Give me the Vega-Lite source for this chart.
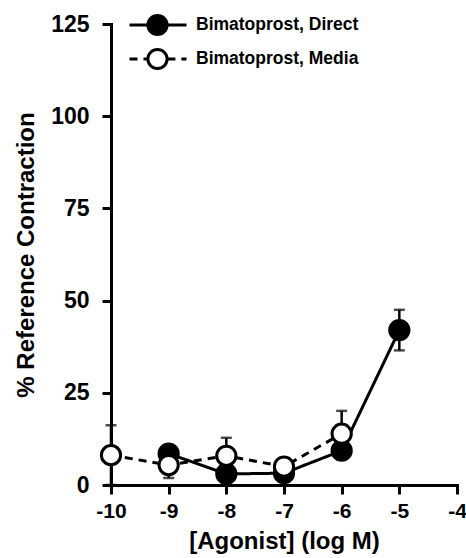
{
  "$schema": "https://vega.github.io/schema/vega-lite/v6.json",
  "width": 346,
  "height": 461,
  "autosize": "none",
  "padding": {"left": 111, "top": 24, "right": 9, "bottom": 73},
  "background": "white",
  "config": {
    "view": {"stroke": null},
    "font": "Liberation Sans",
    "axis": {
      "domainColor": "black", "domainWidth": 3, "domainCap": "square",
      "tickColor": "black", "tickWidth": 3, "tickSize": 9,
      "labelColor": "black", "labelFont": "Liberation Sans", "labelFontWeight": "bold", "labelFontSize": 23,
      "titleColor": "black", "titleFont": "Liberation Sans", "titleFontWeight": "bold", "titleFontSize": 24,
      "grid": false
    }
  },
  "data": {
    "values": [
      {"x": -9, "y": 8.5, "lo": 7.0, "hi": 10.0, "series": "Bimatoprost, Direct"},
      {"x": -8, "y": 3.0, "lo": 1.8, "hi": 4.2, "series": "Bimatoprost, Direct"},
      {"x": -7, "y": 3.2, "lo": 2.0, "hi": 4.4, "series": "Bimatoprost, Direct"},
      {"x": -6, "y": 9.3, "lo": 7.0, "hi": 11.6, "series": "Bimatoprost, Direct"},
      {"x": -5, "y": 42.0, "lo": 36.5, "hi": 47.5, "series": "Bimatoprost, Direct"},
      {"x": -10, "y": 8.1, "lo": 0.0, "hi": 16.2, "series": "Bimatoprost, Media"},
      {"x": -9, "y": 5.4, "lo": 1.9, "hi": 8.9, "series": "Bimatoprost, Media"},
      {"x": -8, "y": 7.9, "lo": 3.0, "hi": 12.8, "series": "Bimatoprost, Media"},
      {"x": -7, "y": 5.0, "lo": 3.5, "hi": 6.5, "series": "Bimatoprost, Media"},
      {"x": -6, "y": 13.9, "lo": 7.7, "hi": 20.1, "series": "Bimatoprost, Media"}
    ]
  },
  "encoding": {
    "x": {
      "field": "x", "type": "quantitative",
      "scale": {"domain": [-10, -4], "nice": false, "zero": false},
      "axis": {"values": [-10, -9, -8, -7, -6, -5, -4], "labelExpr": "'' + datum.value", "labelFontSize": 21, "labelDx": -1, "labelPadding": 6, "title": "[Agonist] (log M)", "titlePadding": 8, "labelFlush": false}
    }
  },
  "layer": [
    {
      "mark": {"type": "rule", "color": "black", "strokeWidth": 2.5},
      "encoding": {
        "y": {"field": "lo", "type": "quantitative", "scale": {"domain": [0, 125], "nice": false}, "axis": {"values": [0, 25, 50, 75, 100, 125], "labelPadding": 13, "title": "% Reference Contraction", "titlePadding": 12}},
        "y2": {"field": "hi"}
      }
    },
    {
      "mark": {"type": "tick", "orient": "horizontal", "color": "black", "size": 11, "thickness": 2.5},
      "encoding": {"y": {"field": "hi", "type": "quantitative"}}
    },
    {
      "mark": {"type": "tick", "orient": "horizontal", "color": "black", "size": 11, "thickness": 2.5},
      "encoding": {"y": {"field": "lo", "type": "quantitative"}}
    },
    {
      "mark": {"type": "line", "color": "black", "strokeWidth": 3},
      "encoding": {
        "y": {"field": "y", "type": "quantitative"},
        "strokeDash": {
          "field": "series", "type": "nominal",
          "scale": {"range": [[1, 0], [8, 6]]},
          "legend": {
            "title": null, "orient": "none", "legendX": 17, "legendY": -16,
            "symbolType": "M-1,0H-0.33M0.33,0H1", "symbolSize": 3249, "symbolStrokeWidth": 3, "symbolStrokeColor": "black", "symbolFillColor": "transparent",
            "clipHeight": 34, "rowPadding": 0, "labelOffset": 8,
            "labelFont": "Liberation Sans", "labelFontWeight": "bold", "labelFontSize": 17.5, "labelColor": "black", "labelLimit": 300
          }
        }
      }
    },
    {
      "mark": {"type": "point", "shape": "circle", "filled": true, "stroke": "black", "strokeWidth": 3, "size": 370, "opacity": 1},
      "encoding": {
        "y": {"field": "y", "type": "quantitative"},
        "fill": {
          "field": "series", "type": "nominal",
          "scale": {"domain": ["Bimatoprost, Direct", "Bimatoprost, Media"], "range": ["black", "white"]},
          "legend": {
            "title": null, "orient": "none", "legendX": 35, "legendY": -16,
            "symbolType": "circle", "symbolSize": 370, "symbolStrokeWidth": 3, "symbolStrokeColor": "black", "symbolOpacity": 1,
            "clipHeight": 34, "rowPadding": 0, "labelExpr": "''", "labelFontSize": 1
          }
        }
      }
    }
  ]
}
